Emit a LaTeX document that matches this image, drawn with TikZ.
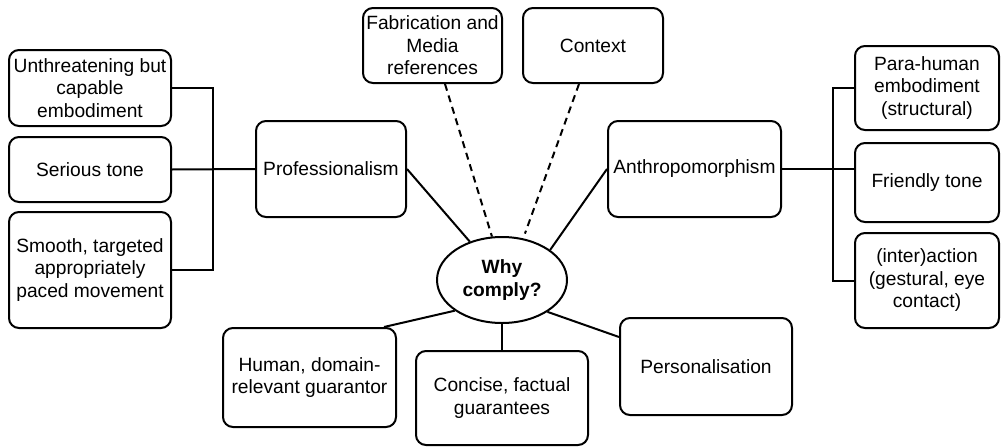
\documentclass[tikz,border=0pt]{standalone}
\usepackage{fontspec}
\setmainfont{Liberation Sans}
\usetikzlibrary{shapes.geometric}
\begin{document}
\begin{tikzpicture}[x=1pt,y=-1pt,
  every node/.style={font=\fontsize{19.2}{22.5}\selectfont},
  box/.style={draw, line width=2pt, rounded corners=10pt, align=center, inner sep=2pt},
  link/.style={line width=2pt},
  dlink/.style={line width=2pt, dash pattern=on 7pt off 5pt}]
\useasboundingbox (0,0) rectangle (1006,447);
% left group
\node[box, minimum width=162pt, minimum height=76pt] (unthreat) at (90,88) {Unthreatening but\\capable\\embodiment};
\node[box, minimum width=162pt, minimum height=65pt] (serious) at (90,169.5) {Serious tone};
\node[box, minimum width=162pt, minimum height=116pt] (smooth) at (90,270) {Smooth, targeted\\appropriately\\paced movement};
\node[box, minimum width=150pt, minimum height=96pt] (prof) at (331,169) {Professionalism};
% top
\node[box, minimum width=139pt, minimum height=75pt] (fab) at (432.5,45.5) {Fabrication and\\Media\\references};
\node[box, minimum width=140pt, minimum height=75pt] (context) at (593,45.5) {Context};
% right group
\node[box, minimum width=173pt, minimum height=96pt] (anthro) at (694.5,169) {Anthropomorphism};
\node[box, minimum width=144pt, minimum height=84pt] (para) at (927,88) {Para-human\\embodiment\\(structural)};
\node[box, minimum width=144pt, minimum height=79pt] (friendly) at (927,182.5) {Friendly tone};
\node[box, minimum width=144pt, minimum height=95pt] (inter) at (927,280.5) {(inter)action\\(gestural, eye\\contact)};
% centre
\node[draw, ellipse, line width=2pt, minimum width=130pt, minimum height=86pt, inner sep=0pt, align=center, font=\fontsize{19.2}{22.5}\selectfont\bfseries] (why) at (502,280) {Why\\comply?};
% bottom
\node[box, minimum width=173pt, minimum height=99pt] (human) at (309.5,377.5) {Human, domain-\\relevant guarantor};
\node[box, minimum width=172pt, minimum height=94pt] (concise) at (502,398) {Concise, factual\\guarantees};
\node[box, minimum width=172pt, minimum height=97pt] (personal) at (706,366.5) {Personalisation};
% brackets
\coordinate (lb) at (213,169);
\coordinate (rb) at (833,169);
\draw[link] (unthreat.east) -| (lb) |- (smooth.east);
\draw[link] (serious.east) -- (prof.west);
\draw[link] (para.west) -| (rb) |- (inter.west);
\draw[link] (anthro.east) -- (anthro.east -| friendly.west);
% to centre
\draw[link] (prof.east) -- (why.130);
\draw[link] (anthro.west) -- (why.32);
\draw[dlink] ([xshift=12.5pt]fab.south) -- (why.103);
\draw[dlink, shorten >=5pt] ([xshift=-14pt]context.south) -- (why.63);
\draw[link] ([xshift=-13pt]human.north east) -- (why.213);
\draw[link] (why.south) -- (concise.north);
\draw[link] (why.325) -- ([yshift=29.5pt]personal.west);
\end{tikzpicture}
\end{document}
